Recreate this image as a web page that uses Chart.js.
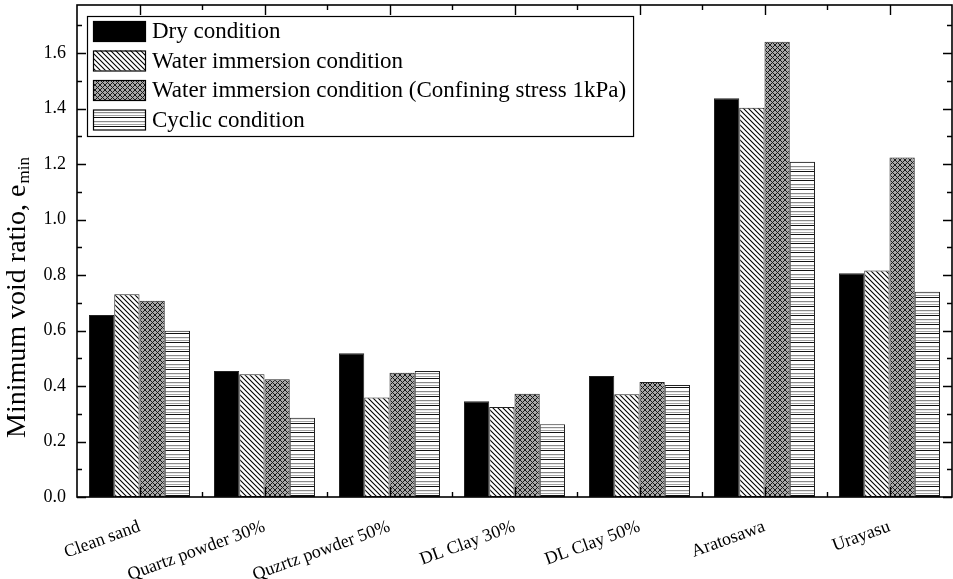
<!DOCTYPE html>
<html>
<head>
<meta charset="utf-8">
<script src="https://cdn.jsdelivr.net/npm/chart.js@4.4.0/dist/chart.umd.min.js"></script>
<style>
html,body{margin:0;padding:0;background:#fff;}
#c{display:block;}
</style>
</head>
<body>
<canvas id="c" width="953" height="579"></canvas>
<script>
// ---- data ----
const categories = ['Clean sand', 'Quartz powder 30%', 'Quzrtz powder 50%', 'DL Clay 30%', 'DL Clay 50%', 'Aratosawa', 'Urayasu'];
const seriesNames = ['Dry condition', 'Water immersion condition', 'Water immersion condition (Confining stress 1kPa)', 'Cyclic condition'];
const dryValues      = [0.656, 0.454, 0.518, 0.345, 0.436, 1.437, 0.806];
const waterValues    = [0.731, 0.442, 0.359, 0.324, 0.370, 1.403, 0.816];
const confinedValues = [0.707, 0.424, 0.448, 0.372, 0.414, 1.641, 1.223];
const cyclicValues   = [0.599, 0.286, 0.454, 0.262, 0.404, 1.208, 0.740];
const yTickValues = [0.0, 0.2, 0.4, 0.6, 0.8, 1.0, 1.2, 1.4, 1.6];
const yMinorStep = 0.1;
const yMin = 0;
const yMax = 1.773;
const yTitle = 'Minimum void ratio, e';
const yTitleSub = 'min';

const FONT = "'Liberation Serif', 'Times New Roman', serif";

// ---- fill patterns ----
function makePattern(kind) {
  const t = document.createElement('canvas');
  const ctx = t.getContext('2d');
  if (kind === 'solid') return '#000';
  if (kind === 'hatch') {
    const s = 5; t.width = s; t.height = s;
    ctx.fillStyle = '#fff'; ctx.fillRect(0, 0, s, s);
    ctx.strokeStyle = '#000'; ctx.lineWidth = 1.1;
    ctx.beginPath();
    ctx.moveTo(-1, -1); ctx.lineTo(s + 1, s + 1);
    ctx.moveTo(-1, s - 1); ctx.lineTo(1, s + 1);
    ctx.moveTo(s - 1, -1); ctx.lineTo(s + 1, 1);
    ctx.stroke();
  } else if (kind === 'cross') {
    const s = 5; t.width = s; t.height = s;
    ctx.fillStyle = '#a8a8a8'; ctx.fillRect(0, 0, s, s);
    ctx.strokeStyle = '#1a1a1a'; ctx.lineWidth = 1.0;
    ctx.beginPath();
    ctx.moveTo(-1, -1); ctx.lineTo(s + 1, s + 1);
    ctx.moveTo(-1, s + 1); ctx.lineTo(s + 1, -1);
    ctx.stroke();
  } else if (kind === 'lines') {
    t.width = 4; t.height = 9;
    ctx.fillStyle = '#fff'; ctx.fillRect(0, 0, 4, 9);
    ctx.fillStyle = '#111'; ctx.fillRect(0, 0, 4, 1);
    ctx.fillStyle = '#8a8a8a'; ctx.fillRect(0, 4, 4, 1.2);
    ctx.fillStyle = '#8a8a8a'; ctx.fillRect(0, 7, 4, 0.8);
  }
  return ctx.createPattern(t, 'repeat');
}
const fills = [makePattern('solid'), makePattern('hatch'), makePattern('cross'), makePattern('lines')];
const seriesValues = [dryValues, waterValues, confinedValues, cyclicValues];

// ---- plugins ----
const framePlugin = {
  id: 'frame',
  afterDatasetsDraw(chart) {
    const ctx = chart.ctx, a = chart.chartArea;
    const y = chart.scales.y, x = chart.scales.x;
    ctx.save();
    ctx.strokeStyle = '#000';
    ctx.lineWidth = 1.6;
    ctx.strokeRect(a.left, a.top, a.right - a.left, a.bottom - a.top);
    ctx.lineWidth = 1.4;
    ctx.beginPath();
    for (let v = yMin; v <= yMax + 1e-9; v += yMinorStep) {
      const vv = Math.round(v * 10) / 10;
      const major = Math.abs(vv / 0.2 - Math.round(vv / 0.2)) < 1e-6;
      const py = Math.round(y.getPixelForValue(vv)) + 0.5;
      const len = major ? 9 : 5;
      ctx.moveTo(a.left, py); ctx.lineTo(a.left + len, py);
      ctx.moveTo(a.right, py); ctx.lineTo(a.right - len, py);
    }
    const n = categories.length;
    for (let i = 0; i < n; i++) {
      const px = Math.round(x.getPixelForValue(i)) + 0.5;
      ctx.moveTo(px, a.top); ctx.lineTo(px, a.top + 10);
      ctx.moveTo(px, a.bottom); ctx.lineTo(px, a.bottom - 10);
    }
    for (let i = 0; i < n - 1; i++) {
      const px = Math.round((x.getPixelForValue(i) + x.getPixelForValue(i + 1)) / 2) + 0.5;
      ctx.moveTo(px, a.top); ctx.lineTo(px, a.top + 5);
      ctx.moveTo(px, a.bottom); ctx.lineTo(px, a.bottom - 5);
    }
    ctx.stroke();
    ctx.restore();
  }
};

const legendPlugin = {
  id: 'boxLegend',
  afterDraw(chart) {
    const ctx = chart.ctx;
    ctx.save();
    ctx.font = '23px ' + FONT;
    const left = 87, top = 16, rowH = 29.5, swX = 93, swW = 52, swH = 20, txtX = 152;
    let maxW = 0;
    chart.data.datasets.forEach(ds => { maxW = Math.max(maxW, ctx.measureText(ds.label).width); });
    const right = txtX + maxW + 7;
    const bottom = top + 120;
    ctx.fillStyle = '#fff';
    ctx.fillRect(left, top, right - left, bottom - top);
    ctx.strokeStyle = '#000'; ctx.lineWidth = 1.2;
    ctx.strokeRect(left + 0.5, top + 0.5, right - left, bottom - top);
    chart.data.datasets.forEach((ds, i) => {
      const sy = top + 5 + i * rowH;
      ctx.fillStyle = ds.backgroundColor;
      ctx.fillRect(swX, sy, swW, swH);
      ctx.strokeStyle = '#000'; ctx.lineWidth = 1.2;
      ctx.strokeRect(swX + 0.5, sy + 0.5, swW, swH);
      ctx.fillStyle = '#000';
      ctx.textBaseline = 'middle';
      ctx.textAlign = 'left';
      ctx.fillText(ds.label, txtX, sy + swH / 2 + 1);
    });
    ctx.restore();
  }
};

const yTitlePlugin = {
  id: 'yTitleSub',
  afterDraw(chart) {
    const ctx = chart.ctx;
    const big = 28, small = 17;
    ctx.save();
    ctx.translate(25, 298);
    ctx.rotate(-Math.PI / 2);
    ctx.fillStyle = '#000';
    ctx.textBaseline = 'alphabetic';
    ctx.font = big + 'px ' + FONT;
    const w1 = ctx.measureText(yTitle).width;
    ctx.font = small + 'px ' + FONT;
    const w2 = ctx.measureText(yTitleSub).width;
    const start = -(w1 + w2) / 2;
    ctx.font = big + 'px ' + FONT;
    ctx.textAlign = 'left';
    ctx.fillText(yTitle, start, 0);
    ctx.font = small + 'px ' + FONT;
    ctx.fillText(yTitleSub, start + w1 + 1, 4);
    ctx.restore();
  }
};

new Chart(document.getElementById('c'), {
  type: 'bar',
  data: {
    labels: categories,
    datasets: seriesNames.map((name, i) => ({
      label: name,
      data: seriesValues[i],
      backgroundColor: fills[i],
      borderColor: '#222',
      borderWidth: 1,
      borderSkipped: false,
      categoryPercentage: 0.808,
      barPercentage: 1.0
    }))
  },
  options: {
    responsive: false,
    animation: false,
    devicePixelRatio: 1,
    layout: { padding: { top: 5, right: 1, left: 0, bottom: 0 } },
    plugins: { legend: { display: false }, tooltip: { enabled: false } },
    scales: {
      x: {
        grid: { display: false, drawTicks: false },
        border: { display: false },
        ticks: {
          autoSkip: false,
          minRotation: 20, maxRotation: 20,
          padding: 19,
          color: '#000',
          font: { family: FONT, size: 18 }
        },
        afterFit(s) { s.height = 82; s.paddingLeft = 0; s.paddingRight = 0; }
      },
      y: {
        min: yMin, max: yMax,
        grid: { display: false, drawTicks: false },
        border: { display: false },
        afterBuildTicks(s) { s.ticks = yTickValues.map(v => ({ value: v })); },
        ticks: {
          padding: 11,
          color: '#000',
          font: { family: FONT, size: 18 },
          callback: v => Number(v).toFixed(1)
        },
        afterFit(s) { s.width = 77; s.paddingTop = 0; s.paddingBottom = 0; }
      }
    }
  },
  plugins: [framePlugin, legendPlugin, yTitlePlugin]
});
</script>
</body>
</html>
